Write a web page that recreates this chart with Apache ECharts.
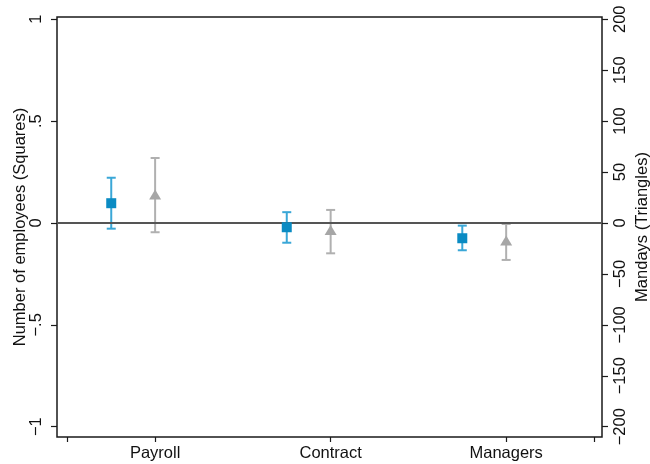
<!DOCTYPE html>
<html>
<head>
<meta charset="utf-8">
<script src="https://cdn.jsdelivr.net/npm/echarts@6/dist/echarts.min.js"></script>
<style>html,body{margin:0;padding:0;background:#fff}#c{width:650px;height:464px}</style>
</head>
<body>
<div id="c"></div>
<script>
// ---- data ----
const categories = ['Payroll', 'Contract', 'Managers'];
// Number of employees (left axis, squares)
const empPoint = [0.097, -0.021, -0.075];
const empLow   = [-0.028, -0.097, -0.134];
const empHigh  = [0.222, 0.053, -0.013];
// Mandays (right axis, triangles)
const manPoint = [28, -6.9, -17.2];
const manLow   = [-9.1, -29.8, -36.3];
const manHigh  = [63.8, 12.8, -1.0];
// tick labels
const leftTicks  = [-1, -0.5, 0, 0.5, 1];
const rightTicks = [-200, -150, -100, -50, 0, 50, 100, 150, 200];
const xTicks = [0.5, 1, 2, 3, 3.5];

const OFFSET = 0.25; // squares drawn left of the category centre
const FONT = "'Liberation Sans', Arial, Helvetica, sans-serif";
const FS = 16.5;
const BLUE = '#0a8bc3', BLUE_BAR = '#3aa7d7';
const GREY = '#a6a6a6', GREY_BAR = '#b0b0b0';

function fmtLeft(v) {
  if (v === 0) return '0';
  let s = String(Math.abs(v)).replace(/^0\./, '.');
  return (v < 0 ? '\u2212' : '') + s;
}
function fmtRight(v) { return (v < 0 ? '\u2212' : '') + Math.abs(v); }

const empBars = categories.map((c, i) => [i + 1 - OFFSET, empLow[i], empHigh[i]]);
const manBars = categories.map((c, i) => [i + 1, manLow[i], manHigh[i]]);
const empPts = categories.map((c, i) => [i + 1 - OFFSET, empPoint[i]]);
const manPts = categories.map((c, i) => [i + 1, manPoint[i]]);

function errRender(color, width) {
  return function (params, api) {
    const x = api.value(0);
    const lo = api.coord([x, api.value(1)]);
    const hi = api.coord([x, api.value(2)]);
    const hw = 4.5;
    const st = { stroke: color, lineWidth: width };
    return {
      type: 'group',
      children: [
        { type: 'line', shape: { x1: lo[0], y1: lo[1], x2: hi[0], y2: hi[1] }, style: st },
        { type: 'line', shape: { x1: lo[0] - hw, y1: lo[1], x2: lo[0] + hw, y2: lo[1] }, style: st },
        { type: 'line', shape: { x1: hi[0] - hw, y1: hi[1], x2: hi[0] + hw, y2: hi[1] }, style: st }
      ]
    };
  };
}

const chart = echarts.init(document.getElementById('c'), null, { renderer: 'canvas' });
chart.setOption({
  animation: false,
  backgroundColor: '#fff',
  textStyle: { fontFamily: FONT },
  grid: {
    left: 57, right: 48, top: 17, bottom: 27,
    containLabel: false, outerBoundsMode: 'none',
    show: true, borderColor: '#1a1a1a', borderWidth: 1.5, backgroundColor: 'transparent'
  },
  xAxis: {
    type: 'value', min: 0.441, max: 3.546,
    axisLine: { show: false, onZero: false },
    splitLine: { show: false },
    axisTick: { show: true, length: 5, customValues: xTicks, lineStyle: { color: '#1a1a1a', width: 1.2 } },
    axisLabel: {
      customValues: [1, 2, 3], margin: 8,
      formatter: v => categories[Math.round(v) - 1] || '',
      fontSize: FS, color: '#111', fontFamily: FONT
    }
  },
  yAxis: [
    {
      type: 'value', position: 'left', min: -1.0506, max: 1.011,
      name: 'Number of employees (Squares)', nameLocation: 'middle', nameGap: 28, nameRotate: 90,
      nameMoveOverlap: false,
      nameTextStyle: { fontSize: FS, color: '#111', fontFamily: FONT },
      axisLine: { show: false, onZero: false },
      splitLine: { show: false },
      axisTick: { show: true, length: 6, customValues: leftTicks, lineStyle: { color: '#1a1a1a', width: 1.2 } },
      axisLabel: { customValues: leftTicks, rotate: 90, margin: 12, formatter: fmtLeft, fontSize: FS, color: '#111', fontFamily: FONT }
    },
    {
      type: 'value', position: 'right', min: -210.12, max: 202.2,
      name: 'Mandays (Triangles)', nameLocation: 'middle', nameGap: 32, nameRotate: 90,
      nameMoveOverlap: false,
      nameTextStyle: { fontSize: FS, color: '#111', fontFamily: FONT },
      axisLine: { show: false, onZero: false },
      splitLine: { show: false },
      axisTick: { show: true, length: 6, customValues: rightTicks, lineStyle: { color: '#1a1a1a', width: 1.2 } },
      axisLabel: { customValues: rightTicks, rotate: 90, margin: 10, formatter: fmtRight, fontSize: FS, color: '#111', fontFamily: FONT }
    }
  ],
  series: [
    {
      type: 'custom', yAxisIndex: 1, data: manBars, renderItem: errRender(GREY_BAR, 2), z: 2,
      markLine: {
        silent: true, symbol: 'none', label: { show: false },
        lineStyle: { color: '#555', width: 2, type: 'solid' },
        data: [{ yAxis: 0 }]
      }
    },
    { type: 'custom', yAxisIndex: 0, data: empBars, renderItem: errRender(BLUE_BAR, 2), z: 3 },
    { type: 'scatter', yAxisIndex: 1, data: manPts, symbol: 'triangle', symbolSize: [12, 10], itemStyle: { color: GREY, opacity: 1 }, z: 4 },
    { type: 'scatter', yAxisIndex: 0, data: empPts, symbol: 'rect', symbolSize: 10, itemStyle: { color: BLUE, opacity: 1 }, z: 5 }
  ]
});
</script>
</body>
</html>
